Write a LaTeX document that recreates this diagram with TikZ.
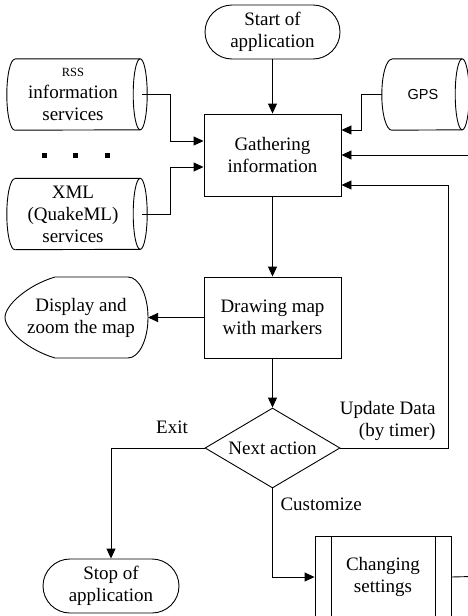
\documentclass[tikz,border=0pt]{standalone}
\usepackage{fontspec}
\setmainfont{Liberation Serif}
\newfontfamily\gpsfont{Liberation Sans}
\usetikzlibrary{arrows.meta,shapes.geometric,calc}

% outline of a horizontal storage drum around a text node
% #1 node, #2 start of top line from west, #3 right end centre from east,
% #4 left bulge radius, #5 right end radius
\newcommand\drum[5]{%
  \draw[thinline] ($(#1.north west)+(#2,0)$) -- ($(#1.north east)+(-#3,0)$) coordinate (#1-tr)
    arc[start angle=90,end angle=-90,x radius=#5,y radius=35.5pt]
    -- ($(#1.south west)+(#2,0)$)
    arc[start angle=270,end angle=90,x radius=#4,y radius=35.5pt];
  \draw[thinline] (#1-tr) arc[start angle=90,end angle=270,x radius=#5,y radius=35.5pt];}

\begin{document}
\begin{tikzpicture}[x=1pt,y=-1pt,
  every node/.style={font=\fontsize{19}{22}\selectfont},
  thinline/.style={line width=0.9pt},
  base/.style={draw, thinline, align=center, inner sep=0pt},
  procbox/.style={base, rectangle, minimum width=137pt, minimum height=82pt},
  terminal/.style={base, rectangle, rounded corners=27pt, minimum width=135pt, minimum height=54pt},
  decision/.style={base, diamond, minimum width=135pt, minimum height=80pt},
  storetext/.style={align=center, inner sep=0pt, minimum width=140pt, minimum height=71pt},
  arr/.style={thinline, -{Triangle[length=10pt,width=9pt]}},
  wire/.style={thinline},
  dot/.style={fill=black, draw=none, minimum size=5pt, inner sep=0pt, rectangle}]

\useasboundingbox (0,0) rectangle (468,616);

% main flow
\node[terminal] (start) at (272.5,32) {Start of\\application};
\node[procbox] (gather) at (272.5,155) {Gathering\\information};
\node[procbox, minimum height=81pt] (drawmap) at (272.5,317.5) {Drawing map\\with markers};
\node[decision] (dia) at (272.5,448) {\makebox[0pt]{Next action}};
\node[terminal, minimum width=136pt] (stop) at (111,586) {Stop of\\application};
\node[base, rectangle, minimum width=136pt, minimum height=81pt] (change) at (383,577) {Changing\\settings};
\draw[thinline] ($(change.north west)+(17,0)$) -- ($(change.south west)+(17,0)$);
\draw[thinline] ($(change.north east)+(-16,0)$) -- ($(change.south east)+(-16,0)$);

% data sources
\node[storetext] (rss) at (73,94.5) {{\fontsize{12.5}{14}\selectfont RSS}\\information\\services};
\drum{rss}{12}{3}{8pt}{7pt}
\node[storetext] (xml) at (73,214) {XML\\(QuakeML)\\services};
\drum{xml}{12}{3}{8pt}{7pt}
\node[storetext, minimum width=90pt] (gps) at (423,94.5) {\gpsfont\fontsize{14.5}{17}\selectfont GPS};
\drum{gps}{14}{6}{10pt}{7pt}

\node[dot] (d1) at (44,155.5) {};
\node[dot] (d2) at (75.5,155.5) {};
\node[dot] (d3) at (107.5,155.5) {};

% display shape
\node[align=center, inner sep=0pt] (disp) at (81,317.5) {Display and\\zoom the map};
\draw[thinline] (55,277) -- (128,277)
  arc[start angle=90,end angle=-90,x radius=20pt,y radius=40.5pt]
  -- (55,358) .. controls (28,350) and (5,330) .. (5,317.5)
  .. controls (5,305) and (28,285) .. (55,277) -- cycle;
\coordinate (disp-e) at (148,317.5);

% connector ends
\coordinate (rss-out) at ($(rss.east)+(-1,0)$);
\coordinate (xml-out) at ($(xml.east)+(-1,0)$);
\coordinate (gps-in) at ($(gps.west)+(4,0)$);
\coordinate (feedin) at (472,155);
\coordinate (loopx) at (448,448);
\coordinate (outright) at (472,576.5);

% connectors
\draw[arr] (start) -- (gather);
\draw[arr] (rss-out) -- ++(28,0) |- ($(gather.west)+(0,-14)$);
\draw[arr] (xml-out) -- ++(28,0) |- ($(gather.west)+(0,12)$);
\draw[arr] (gps-in) -- ++(-20,0) |- ($(gather.east)+(0,-25)$);
\draw[arr] (feedin) -- (gather.east);
\draw[arr] (gather) -- (drawmap);
\draw[arr] (drawmap.west) -- (disp-e);
\draw[arr] (drawmap) -- (dia);
\draw[arr] (dia.west) -| (stop.north);
\draw[arr] (dia.east) -- (loopx) |- ($(gather.east)+(0,30)$);
\draw[arr] (dia.south) |- (change.west);
\draw[wire] (change.east) -- (outright);

% connector labels
\node (lexit) at (172,427.5) {Exit};
\node[align=right, anchor=east] (lupd) at (439,421) {Update Data\\(by timer)};
\node[anchor=west] (lcust) at (277,504) {Customize};

\end{tikzpicture}
\end{document}
